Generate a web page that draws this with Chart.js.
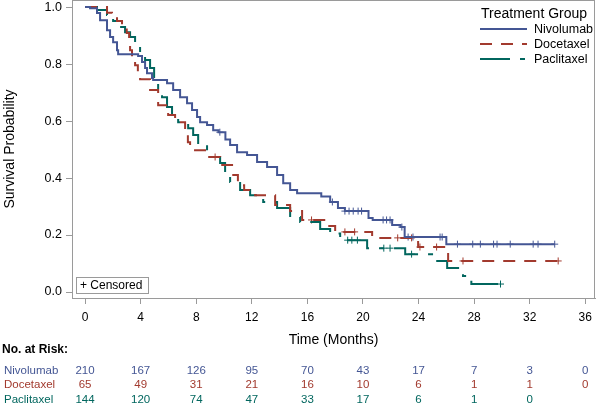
<!DOCTYPE html>
<html>
<head>
<meta charset="utf-8">
<script src="https://cdn.jsdelivr.net/npm/chart.js@4.4.1/dist/chart.umd.min.js"></script>
<style>
  html, body { margin: 0; padding: 0; background: #fff; }
</style>
</head>
<body>
<canvas id="km" width="600" height="404"></canvas>
<script>
const groups = ['Nivolumab', 'Docetaxel', 'Paclitaxel'];
const colors = ['#445694', '#A23A2E', '#01665E'];

// KM steps: time of each drop and survival after it (last entry = end of follow-up)
const nivoTime = [0, 0.36, 0.86, 1.08, 1.58, 1.8, 2.02, 2.3, 2.38, 3.82, 4.1, 4.32, 4.46, 4.82, 4.9, 5.9, 6.34, 6.84, 7.34, 7.7, 8.06, 8.28, 8.78, 9.22, 9.6, 10.1, 10.44, 10.94, 11.66, 12.38, 13.1, 13.82, 14.26, 14.76, 15.26, 17.0, 17.64, 18.2, 18.7, 20.4, 20.7, 22.1, 22.7, 23.0, 26.0, 33.8];
const nivoSurv = [1, 0.996, 0.979, 0.954, 0.919, 0.895, 0.877, 0.849, 0.835, 0.828, 0.807, 0.786, 0.768, 0.751, 0.744, 0.733, 0.709, 0.684, 0.663, 0.639, 0.614, 0.596, 0.586, 0.568, 0.561, 0.535, 0.516, 0.491, 0.481, 0.456, 0.439, 0.411, 0.382, 0.358, 0.347, 0.335, 0.316, 0.295, 0.284, 0.26, 0.253, 0.235, 0.228, 0.193, 0.168, 0.168];
const nivoCens = [9.7, 17.8, 18.7, 19.0, 19.3, 19.65, 19.9, 21.45, 21.7, 21.95, 22.8, 23.25, 23.6, 25.55, 25.7, 26.8, 27.9, 28.45, 29.4, 29.65, 30.6, 32.25, 32.6, 33.8];

const doceTime = [0, 1.58, 1.94, 2.3, 2.66, 3.0, 3.17, 3.24, 3.38, 3.6, 3.8, 3.96, 4.68, 5.26, 5.98, 6.48, 7.2, 7.4, 7.56, 8.78, 9.72, 10.58, 11.0, 11.45, 12.24, 13.68, 14.76, 15.62, 17.42, 18.0, 20.66, 23.97, 26.13, 34.05];
const doceSurv = [1, 0.98, 0.965, 0.951, 0.93, 0.909, 0.884, 0.849, 0.825, 0.796, 0.772, 0.747, 0.709, 0.656, 0.621, 0.596, 0.551, 0.526, 0.498, 0.474, 0.446, 0.411, 0.375, 0.358, 0.34, 0.305, 0.284, 0.253, 0.232, 0.211, 0.19, 0.158, 0.109, 0.109];
const doceCens = [9.36, 16.3, 18.7, 19.4, 22.5, 23.5, 24.1, 25.3, 27.2, 34.05];

const paclTime = [0, 0.86, 1.58, 2.02, 2.5, 2.88, 3.24, 3.6, 3.96, 4.32, 4.68, 4.97, 5.26, 5.54, 5.9, 6.26, 6.7, 7.42, 7.78, 8.14, 8.78, 9.72, 10.08, 10.44, 11.16, 11.88, 12.46, 12.82, 13.82, 14.76, 15.48, 16.92, 17.64, 18.36, 20.3, 23.04, 25.05, 26.06, 27.2, 27.8, 29.9];
const paclSurv = [1, 0.99, 0.972, 0.951, 0.93, 0.912, 0.895, 0.877, 0.842, 0.814, 0.786, 0.744, 0.709, 0.684, 0.649, 0.614, 0.596, 0.575, 0.551, 0.516, 0.474, 0.453, 0.421, 0.386, 0.358, 0.34, 0.333, 0.316, 0.295, 0.263, 0.246, 0.221, 0.205, 0.182, 0.154, 0.133, 0.109, 0.084, 0.056, 0.028, 0.028];
const paclCens = [18.9, 19.2, 19.6, 21.5, 21.95, 23.5, 29.9];

// number at risk table
const riskTimes = [0, 4, 8, 12, 16, 20, 24, 28, 32, 36];
const nivoRisk = [210, 167, 126, 95, 70, 43, 17, 7, 3, 0];
const doceRisk = [65, 49, 31, 21, 16, 10, 6, 1, 1, 0];
const paclRisk = [144, 120, 74, 47, 33, 17, 6, 1, 0];

const xTicks = [0, 4, 8, 12, 16, 20, 24, 28, 32, 36];
const yTicks = [0, 0.2, 0.4, 0.6, 0.8, 1.0];

const FONT = '"Liberation Sans", Arial, sans-serif';
const AXIS_GRAY = '#9a9a9a';
const dashes = [[], [12, 9], [30, 10, 5, 10]];

const curves = [
  { time: nivoTime, surv: nivoSurv, cens: nivoCens, risk: nivoRisk },
  { time: doceTime, surv: doceSurv, cens: doceCens, risk: doceRisk },
  { time: paclTime, surv: paclSurv, cens: paclCens, risk: paclRisk },
];

function survAt(c, t) {
  let s = c.surv[0];
  for (let i = 0; i < c.time.length; i++) {
    if (c.time[i] <= t) s = c.surv[i];
  }
  return s;
}

const datasets = [];
curves.forEach((c, i) => {
  datasets.push({
    label: groups[i],
    data: c.time.map((t, k) => ({ x: t, y: c.surv[k] })),
    borderColor: colors[i],
    borderWidth: 2,
    borderDash: dashes[i],
    stepped: true,
    pointRadius: 0,
    fill: false,
  });
});
curves.forEach((c, i) => {
  datasets.push({
    label: groups[i] + ' censored',
    data: c.cens.map(t => ({ x: t, y: survAt(c, t) })),
    showLine: false,
    pointStyle: 'cross',
    pointRadius: 3.5,
    borderWidth: 1,
    borderColor: colors[i],
    backgroundColor: colors[i],
  });
});

const extras = {
  id: 'extras',
  afterDraw(chart) {
    const { ctx, chartArea: a, scales: { x } } = chart;
    ctx.save();
    // frame around the plot
    ctx.strokeStyle = AXIS_GRAY;
    ctx.lineWidth = 1;
    ctx.strokeRect(a.left + 0.5, a.top + 0.5, a.right - a.left - 1, a.bottom - a.top);

    // legend
    ctx.fillStyle = '#000';
    ctx.textBaseline = 'middle';
    ctx.textAlign = 'left';
    ctx.font = '14px ' + FONT;
    ctx.fillText('Treatment Group', 481, 14);
    ctx.font = '12.5px ' + FONT;
    groups.forEach((g, i) => {
      const y = 29 + i * 15;
      ctx.strokeStyle = colors[i];
      ctx.lineWidth = 2;
      ctx.setLineDash(dashes[i]);
      ctx.beginPath();
      ctx.moveTo(480, y);
      ctx.lineTo(527, y);
      ctx.stroke();
      ctx.setLineDash([]);
      ctx.fillStyle = '#000';
      ctx.fillText(g, 534, y + 1);
    });

    // censored key
    ctx.strokeStyle = AXIS_GRAY;
    ctx.lineWidth = 1;
    ctx.strokeRect(76.5, 277.5, 72, 16);
    ctx.fillStyle = '#000';
    ctx.font = '12px ' + FONT;
    ctx.fillText('+ Censored', 80, 286);

    // number at risk
    ctx.font = 'bold 12px ' + FONT;
    ctx.fillText('No. at Risk:', 2, 350);
    ctx.font = '11.5px ' + FONT;
    curves.forEach((c, i) => {
      const y = 370.5 + i * 14.5;
      ctx.fillStyle = colors[i];
      ctx.textAlign = 'left';
      ctx.fillText(groups[i], 4, y);
      ctx.textAlign = 'center';
      c.risk.forEach((n, k) => {
        ctx.fillText(String(n), x.getPixelForValue(riskTimes[k]), y);
      });
    });
    ctx.restore();
  }
};

new Chart(document.getElementById('km'), {
  type: 'line',
  data: { datasets },
  options: {
    responsive: false,
    animation: false,
    layout: { autoPadding: false, padding: { left: 0, right: 5, top: 0, bottom: 55 } },
    plugins: { legend: { display: false }, tooltip: { enabled: false } },
    scales: {
      x: {
        type: 'linear',
        min: -0.94,
        max: 36.7,
        afterBuildTicks: axis => { axis.ticks = xTicks.map(v => ({ value: v })); },
        afterFit: axis => { axis.height = 51; axis.paddingLeft = 0; axis.paddingRight = 0; },
        ticks: { color: '#000', font: { size: 12, family: FONT }, padding: 6, maxRotation: 0 },
        grid: { drawOnChartArea: false, tickLength: 6, color: AXIS_GRAY },
        border: { color: AXIS_GRAY },
        title: { display: true, text: 'Time (Months)', color: '#000', font: { size: 14, family: FONT }, padding: { top: 0, bottom: 0 } },
      },
      y: {
        min: -0.021,
        max: 1.025,
        afterBuildTicks: axis => { axis.ticks = yTicks.map(v => ({ value: v })); },
        afterFit: axis => { axis.width = 72; axis.paddingTop = 0; axis.paddingBottom = 0; },
        ticks: { color: '#000', font: { size: 12.5, family: FONT }, padding: 4, callback: v => v.toFixed(1) },
        grid: { drawOnChartArea: false, tickLength: 6, color: AXIS_GRAY },
        border: { color: AXIS_GRAY },
        title: { display: true, text: 'Survival Probability', color: '#000', font: { size: 14, family: FONT }, padding: { top: 2, bottom: 0 } },
      }
    }
  },
  plugins: [extras]
});
</script>
</body>
</html>
